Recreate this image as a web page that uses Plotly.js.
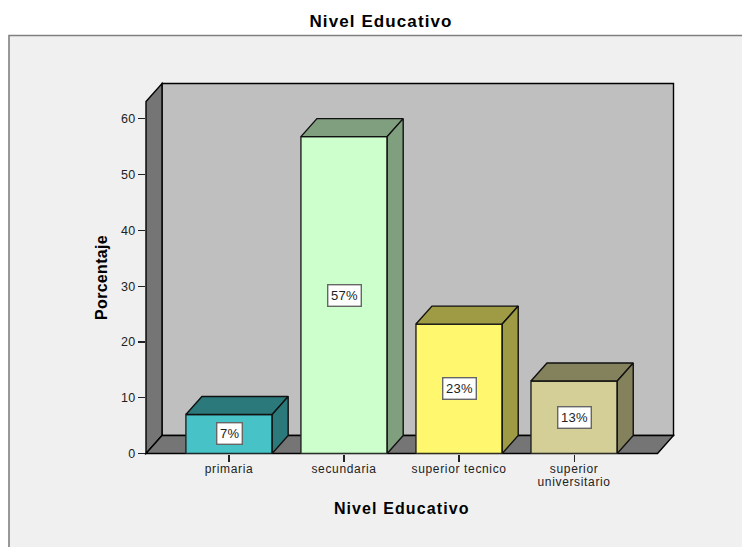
<!DOCTYPE html>
<html>
<head>
<meta charset="utf-8">
<script src="https://cdn.plot.ly/plotly-3.0.1.min.js"></script>
<style>
html,body{margin:0;padding:0;background:#fff;overflow:hidden}
.xtick text{letter-spacing:.65px}
.ytick text{letter-spacing:.3px}
.gtitle{letter-spacing:1.1px}
.xtitle{letter-spacing:1.1px}
.ytitle{letter-spacing:.3px}
.annotation-text{letter-spacing:.3px}
</style>
</head>
<body>
<div id="chart" style="width:742px;height:547px"></div>
<script>
var categories = ['primaria', 'secundaria', 'superior tecnico', 'superior<br>universitario'];
var values = [7, 56.8, 23.2, 13];
var labels = ['7%', '57%', '23%', '13%'];
var frontColors = ['#47c2c7', '#ccffcc', '#fff86e', '#d3cf96'];
var depthColors = ['#2c797c', '#7f9f7f', '#9f9b45', '#84815d'];
var yTicks = [0, 10, 20, 30, 40, 50, 60];

var W = 742, H = 547;
var L = 146, R = 657.5, B = 453.5, T = 101.5;   // front plane, px
var DX = 16, DY = 18;                            // depth, px
var xMin = -0.722, xMax = 3.725, yMax = 63.1, barW = 0.75;
var depthX = DX * (xMax - xMin) / (R - L);
var depthY = DY * yMax / (B - T);
var px = function (v) { return v / W; };
var py = function (v) { return 1 - v / H; };
var poly = function (pts) {
  return pts.map(function (p, i) { return (i ? 'L' : 'M') + px(p[0]) + ',' + py(p[1]); }).join(' ') + ' Z';
};
var frame = function (path, fill, lw, col) {
  return {type: 'path', xref: 'paper', yref: 'paper', layer: 'below', path: path,
          fillcolor: fill, line: {color: col || '#000', width: lw}};
};

var traces = [{
  type: 'bar', x: [0, 1, 2, 3], y: values, width: barW, xaxis: 'x', yaxis: 'y',
  marker: {color: frontColors, line: {color: '#222', width: 1.4}},
  hoverinfo: 'skip', showlegend: false
}];

values.forEach(function (v, i) {
  var a = i - barW / 2, b = i + barW / 2;
  // top face
  traces.push({type: 'scatter', mode: 'lines', xaxis: 'x2', yaxis: 'y2', fill: 'toself',
    x: [a, a + depthX, b + depthX, b, a], y: [v, v + depthY, v + depthY, v, v],
    fillcolor: depthColors[i], line: {color: '#111', width: 1.4}, hoverinfo: 'skip', showlegend: false});
  // side face
  traces.push({type: 'scatter', mode: 'lines', xaxis: 'x2', yaxis: 'y2', fill: 'toself',
    x: [b, b + depthX, b + depthX, b, b], y: [0, depthY, v + depthY, v, 0],
    fillcolor: depthColors[i], line: {color: '#111', width: 1.4}, hoverinfo: 'skip', showlegend: false});
});

var layout = {
  width: W, height: H, autosize: false,
  margin: {l: 0, r: 0, t: 0, b: 0},
  paper_bgcolor: '#ffffff', plot_bgcolor: 'rgba(0,0,0,0)',
  font: {family: '"Liberation Sans", Arial, sans-serif', color: '#222', size: 12},
  showlegend: false,
  title: {text: 'Nivel Educativo', x: 381 / W, xref: 'paper', xanchor: 'center',
          y: 1 - 21 / H, yref: 'container', yanchor: 'middle',
          font: {size: 17, weight: 700, color: '#000'}},
  xaxis: {domain: [px(L), px(R)], range: [xMin, xMax], anchor: 'y', tickmode: 'array',
          tickvals: [0, 1, 2, 3], ticktext: categories, ticks: 'outside', ticklen: 7, tickwidth: 1.2,
          tickcolor: '#222', showline: false, showgrid: false, zeroline: false, automargin: false, fixedrange: true,
          tickfont: {size: 12, color: '#222'}, tickangle: 0, ticklabelstandoff: -3,
          title: {text: 'Nivel Educativo', standoff: 12, font: {size: 16, weight: 700, color: '#000'}}},
  yaxis: {domain: [py(B), py(T)], range: [0, yMax], anchor: 'x', tickmode: 'array',
          tickvals: yTicks, ticks: 'outside', ticklen: 7, tickwidth: 1.2,
          tickcolor: '#222', showline: false, showgrid: false, zeroline: false, automargin: false, fixedrange: true,
          tickfont: {size: 12.5, color: '#222'},
          title: {text: 'Porcentaje', standoff: 9, font: {size: 16, weight: 700, color: '#000'}}},
  xaxis2: {domain: [px(L), px(R + DX)], range: [xMin, xMax + depthX], anchor: 'y2', visible: false, fixedrange: true},
  yaxis2: {domain: [py(B), py(T - DY)], range: [0, yMax + depthY], anchor: 'x2', visible: false, fixedrange: true},
  shapes: [
    frame(poly([[9, 35.5], [760, 35.5], [760, 560], [9, 560]]), '#f0f0f0', 1.6, '#808080'),
    frame(poly([[L + DX, T - DY], [R + DX, T - DY], [R + DX, B - DY], [L + DX, B - DY]]), '#bfbfbf', 1.4),
    frame(poly([[L, B], [L, T], [L + DX, T - DY], [L + DX, B - DY]]), '#757575', 1.4),
    frame(poly([[L, B], [L + DX, B - DY], [R + DX, B - DY], [R, B]]), '#757575', 1.4)
  ],
  annotations: values.map(function (v, i) {
    return {x: i, y: v / 2, xref: 'x', yref: 'y', text: labels[i], showarrow: false,
            xanchor: 'center', yanchor: 'middle', bgcolor: '#ffffff', bordercolor: '#666',
            borderwidth: 1.4, borderpad: 2.5, font: {size: 13, color: '#222'}};
  })
};

Plotly.newPlot('chart', traces, layout, {displayModeBar: false, staticPlot: true}).then(function (gd) {
  // tighter line spacing for the two-line category label
  gd.querySelectorAll('.xtick tspan.line').forEach(function (t) {
    if (parseFloat(t.getAttribute('dy')) > 0) t.setAttribute('dy', '1.05em');
  });
});
</script>
</body>
</html>
